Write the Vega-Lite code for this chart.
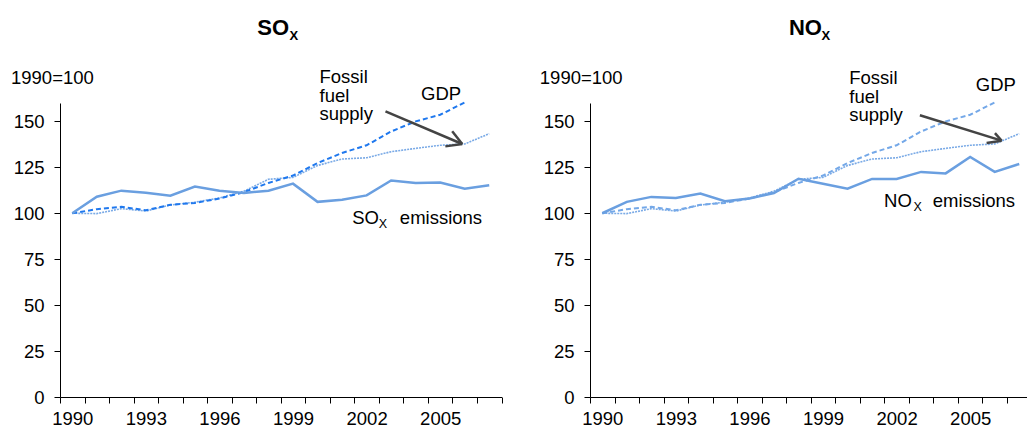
{
  "$schema": "https://vega.github.io/schema/vega-lite/v6.json",
  "padding": {"left": 10, "top": 16, "right": 0, "bottom": 0},
  "background": "white",
  "config": {
    "font": "Liberation Sans",
    "view": {"stroke": null},
    "axis": {"grid": false, "domainColor": "#000", "tickColor": "#000", "labelColor": "#000", "titleColor": "#000", "labelFontSize": 18.5, "titleFontSize": 18.5, "titleFontWeight": "normal", "tickSize": 6, "domainWidth": 1, "tickWidth": 1},
    "text": {"font": "Liberation Sans", "color": "#000"}
  },
  "datasets": {
    "lines": [
      {"series": "GDP", "year": 1990, "value": 100},
      {"series": "GDP", "year": 1991, "value": 102.2},
      {"series": "GDP", "year": 1992, "value": 103.5},
      {"series": "GDP", "year": 1993, "value": 101.6},
      {"series": "GDP", "year": 1994, "value": 104.6},
      {"series": "GDP", "year": 1995, "value": 105.6},
      {"series": "GDP", "year": 1996, "value": 108},
      {"series": "GDP", "year": 1997, "value": 111.5},
      {"series": "GDP", "year": 1998, "value": 116.5},
      {"series": "GDP", "year": 1999, "value": 120.5},
      {"series": "GDP", "year": 2000, "value": 127.3},
      {"series": "GDP", "year": 2001, "value": 132.8},
      {"series": "GDP", "year": 2002, "value": 137},
      {"series": "GDP", "year": 2003, "value": 144.5},
      {"series": "GDP", "year": 2004, "value": 150},
      {"series": "GDP", "year": 2005, "value": 153.6},
      {"series": "GDP", "year": 2006, "value": 160.3},
      {"series": "Fossil fuel supply", "year": 1990, "value": 100},
      {"series": "Fossil fuel supply", "year": 1991, "value": 99.8},
      {"series": "Fossil fuel supply", "year": 1992, "value": 102.5},
      {"series": "Fossil fuel supply", "year": 1993, "value": 101.2},
      {"series": "Fossil fuel supply", "year": 1994, "value": 104.5},
      {"series": "Fossil fuel supply", "year": 1995, "value": 106},
      {"series": "Fossil fuel supply", "year": 1996, "value": 108.3},
      {"series": "Fossil fuel supply", "year": 1997, "value": 112},
      {"series": "Fossil fuel supply", "year": 1998, "value": 118.5},
      {"series": "Fossil fuel supply", "year": 1999, "value": 119.5},
      {"series": "Fossil fuel supply", "year": 2000, "value": 126},
      {"series": "Fossil fuel supply", "year": 2001, "value": 129.5},
      {"series": "Fossil fuel supply", "year": 2002, "value": 130.2},
      {"series": "Fossil fuel supply", "year": 2003, "value": 133.5},
      {"series": "Fossil fuel supply", "year": 2004, "value": 135.3},
      {"series": "Fossil fuel supply", "year": 2005, "value": 137},
      {"series": "Fossil fuel supply", "year": 2006, "value": 137.7},
      {"series": "Fossil fuel supply", "year": 2007, "value": 143.3},
      {"series": "SOx emissions", "year": 1990, "value": 100},
      {"series": "SOx emissions", "year": 1991, "value": 109},
      {"series": "SOx emissions", "year": 1992, "value": 112.3},
      {"series": "SOx emissions", "year": 1993, "value": 111.1},
      {"series": "SOx emissions", "year": 1994, "value": 109.5},
      {"series": "SOx emissions", "year": 1995, "value": 114.5},
      {"series": "SOx emissions", "year": 1996, "value": 112.3},
      {"series": "SOx emissions", "year": 1997, "value": 111},
      {"series": "SOx emissions", "year": 1998, "value": 112.3},
      {"series": "SOx emissions", "year": 1999, "value": 116.1},
      {"series": "SOx emissions", "year": 2000, "value": 106.2},
      {"series": "SOx emissions", "year": 2001, "value": 107.4},
      {"series": "SOx emissions", "year": 2002, "value": 109.7},
      {"series": "SOx emissions", "year": 2003, "value": 117.8},
      {"series": "SOx emissions", "year": 2004, "value": 116.5},
      {"series": "SOx emissions", "year": 2005, "value": 116.7},
      {"series": "SOx emissions", "year": 2006, "value": 113.3},
      {"series": "SOx emissions", "year": 2007, "value": 115.2},
      {"series": "NOx emissions", "year": 1990, "value": 100},
      {"series": "NOx emissions", "year": 1991, "value": 106.2},
      {"series": "NOx emissions", "year": 1992, "value": 108.9},
      {"series": "NOx emissions", "year": 1993, "value": 108.3},
      {"series": "NOx emissions", "year": 1994, "value": 110.7},
      {"series": "NOx emissions", "year": 1995, "value": 106.5},
      {"series": "NOx emissions", "year": 1996, "value": 108},
      {"series": "NOx emissions", "year": 1997, "value": 111},
      {"series": "NOx emissions", "year": 1998, "value": 118.8},
      {"series": "NOx emissions", "year": 1999, "value": 116.1},
      {"series": "NOx emissions", "year": 2000, "value": 113.4},
      {"series": "NOx emissions", "year": 2001, "value": 118.7},
      {"series": "NOx emissions", "year": 2002, "value": 118.7},
      {"series": "NOx emissions", "year": 2003, "value": 122.5},
      {"series": "NOx emissions", "year": 2004, "value": 121.7},
      {"series": "NOx emissions", "year": 2005, "value": 130.6},
      {"series": "NOx emissions", "year": 2006, "value": 122.5},
      {"series": "NOx emissions", "year": 2007, "value": 126.8}
    ]
  },
  "spacing": 36,
  "hconcat": [
    {
      "width": 441.5,
      "height": 294,
      "data": {"name": "lines"},
      "encoding": {
        "x": {"field": "year", "type": "quantitative", "scale": {"domain": [1989.5, 2007.5], "nice": false, "zero": false},
          "axis": {"title": null, "values": [1989.5, 1990, 1990.5, 1991.5, 1992.5, 1993, 1993.5, 1994.5, 1995.5, 1996, 1996.5, 1997.5, 1998.5, 1999, 1999.5, 2000.5, 2001.5, 2002, 2002.5, 2003.5, 2004.5, 2005, 2005.5, 2006.5, 2007.5],
            "tickOpacity": {"condition": {"test": "datum.value % 1 === 0", "value": 0}, "value": 1},
            "labelExpr": "datum.value % 1 === 0 ? format(datum.value, 'd') : ''", "labelOverlap": false, "labelBound": false, "labelFlush": false, "labelPadding": 6}},
        "y": {"field": "value", "type": "quantitative", "scale": {"domain": [0, 160], "nice": false},
          "axis": {"title": "1990=100", "values": [0, 25, 50, 75, 100, 125, 150], "labelPadding": 10, "titleAngle": 0, "titleAlign": "left", "titleBaseline": "alphabetic", "titleX": -49.5, "titleY": -20}}
      },
      "layer": [
        {"transform": [{"filter": "datum.series === 'Fossil fuel supply'"}], "mark": {"type": "line", "color": "#7aaae6", "strokeWidth": 1.6, "strokeDash": [2, 1]}},
        {"transform": [{"filter": "datum.series === 'GDP'"}], "mark": {"type": "line", "color": "#1f78ee", "strokeWidth": 2, "strokeDash": [5, 3]}},
        {"transform": [{"filter": "datum.series === 'SOx emissions'"}], "mark": {"type": "line", "color": "#6a9fe0", "strokeWidth": 2.5}},
        {"data": {"values": [
            {"year": 2002.77, "value": 155.4, "year2": 2005.9, "value2": 137.7},
            {"year": 2005.49, "value": 144.6, "year2": 2005.9, "value2": 137.7},
            {"year": 2005.21, "value": 136.4, "year2": 2005.9, "value2": 137.7}]},
          "mark": {"type": "rule", "color": "#444", "strokeWidth": 2.5},
          "encoding": {"x2": {"field": "year2"}, "y2": {"field": "value2"}}},
        {"data": {"values": [
            {"label": "Fossil\nfuel\nsupply", "year": 2000.08, "value": 170.8},
            {"label": "GDP", "year": 2004.22, "value": 161.8},
            {"label": "SO", "year": 2001.41, "value": 94.4}]},
          "mark": {"type": "text", "align": "left", "baseline": "alphabetic", "fontSize": 18.5, "lineBreak": "\n", "lineHeight": 18.5},
          "encoding": {"text": {"field": "label"}}},
        {"data": {"values": [{"label": "X", "year": 2002.5, "value": 92.2}]},
          "mark": {"type": "text", "align": "left", "baseline": "alphabetic", "fontSize": 12.5},
          "encoding": {"text": {"field": "label"}}},
        {"data": {"values": [{"label": "emissions", "year": 2006.71, "value": 94.4}]},
          "mark": {"type": "text", "align": "right", "baseline": "alphabetic", "fontSize": 18.5},
          "encoding": {"text": {"field": "label"}}},
        {"data": {"values": [{"label": "SO", "year": 1997.54, "value": 197.1}]},
          "mark": {"type": "text", "align": "left", "baseline": "alphabetic", "fontSize": 22, "fontWeight": "bold"},
          "encoding": {"text": {"field": "label"}}},
        {"data": {"values": [{"label": "X", "year": 1998.86, "value": 194.4}]},
          "mark": {"type": "text", "align": "left", "baseline": "alphabetic", "fontSize": 13, "fontWeight": "bold"},
          "encoding": {"text": {"field": "label"}}}
      ]
    },
    {
      "width": 441.5,
      "height": 294,
      "data": {"name": "lines"},
      "encoding": {
        "x": {"field": "year", "type": "quantitative", "scale": {"domain": [1989.5, 2007.5], "nice": false, "zero": false},
          "axis": {"title": null, "values": [1989.5, 1990, 1990.5, 1991.5, 1992.5, 1993, 1993.5, 1994.5, 1995.5, 1996, 1996.5, 1997.5, 1998.5, 1999, 1999.5, 2000.5, 2001.5, 2002, 2002.5, 2003.5, 2004.5, 2005, 2005.5, 2006.5, 2007.5],
            "tickOpacity": {"condition": {"test": "datum.value % 1 === 0", "value": 0}, "value": 1},
            "labelExpr": "datum.value % 1 === 0 ? format(datum.value, 'd') : ''", "labelOverlap": false, "labelBound": false, "labelFlush": false, "labelPadding": 6}},
        "y": {"field": "value", "type": "quantitative", "scale": {"domain": [0, 160], "nice": false},
          "axis": {"title": "1990=100", "values": [0, 25, 50, 75, 100, 125, 150], "labelPadding": 10, "titleAngle": 0, "titleAlign": "left", "titleBaseline": "alphabetic", "titleX": -50.7, "titleY": -20}}
      },
      "layer": [
        {"transform": [{"filter": "datum.series === 'Fossil fuel supply'"}], "mark": {"type": "line", "color": "#7aaae6", "strokeWidth": 1.6, "strokeDash": [2, 1]}},
        {"transform": [{"filter": "datum.series === 'GDP'"}], "mark": {"type": "line", "color": "#74a8e8", "strokeWidth": 2, "strokeDash": [5, 3]}},
        {"transform": [{"filter": "datum.series === 'NOx emissions'"}], "mark": {"type": "line", "color": "#6a9fe0", "strokeWidth": 2.5}},
        {"data": {"values": [
            {"year": 2002.95, "value": 153.3, "year2": 2006.28, "value2": 139.5},
            {"year": 2006.01, "value": 143.6, "year2": 2006.28, "value2": 139.5},
            {"year": 2005.67, "value": 138.2, "year2": 2006.28, "value2": 139.5}]},
          "mark": {"type": "rule", "color": "#444", "strokeWidth": 2.5},
          "encoding": {"x2": {"field": "year2"}, "y2": {"field": "value2"}}},
        {"data": {"values": [
            {"label": "Fossil\nfuel\nsupply", "year": 2000.07, "value": 170.3},
            {"label": "GDP", "year": 2005.23, "value": 166.3},
            {"label": "NO", "year": 2001.49, "value": 103.3}]},
          "mark": {"type": "text", "align": "left", "baseline": "alphabetic", "fontSize": 18.5, "lineBreak": "\n", "lineHeight": 18.5},
          "encoding": {"text": {"field": "label"}}},
        {"data": {"values": [{"label": "X", "year": 2002.69, "value": 101.1}]},
          "mark": {"type": "text", "align": "left", "baseline": "alphabetic", "fontSize": 12.5},
          "encoding": {"text": {"field": "label"}}},
        {"data": {"values": [{"label": "emissions", "year": 2006.83, "value": 103.3}]},
          "mark": {"type": "text", "align": "right", "baseline": "alphabetic", "fontSize": 18.5},
          "encoding": {"text": {"field": "label"}}},
        {"data": {"values": [{"label": "NO", "year": 1997.61, "value": 197.1}]},
          "mark": {"type": "text", "align": "left", "baseline": "alphabetic", "fontSize": 22, "fontWeight": "bold"},
          "encoding": {"text": {"field": "label"}}},
        {"data": {"values": [{"label": "X", "year": 1998.94, "value": 194.4}]},
          "mark": {"type": "text", "align": "left", "baseline": "alphabetic", "fontSize": 13, "fontWeight": "bold"},
          "encoding": {"text": {"field": "label"}}}
      ]
    }
  ]
}
